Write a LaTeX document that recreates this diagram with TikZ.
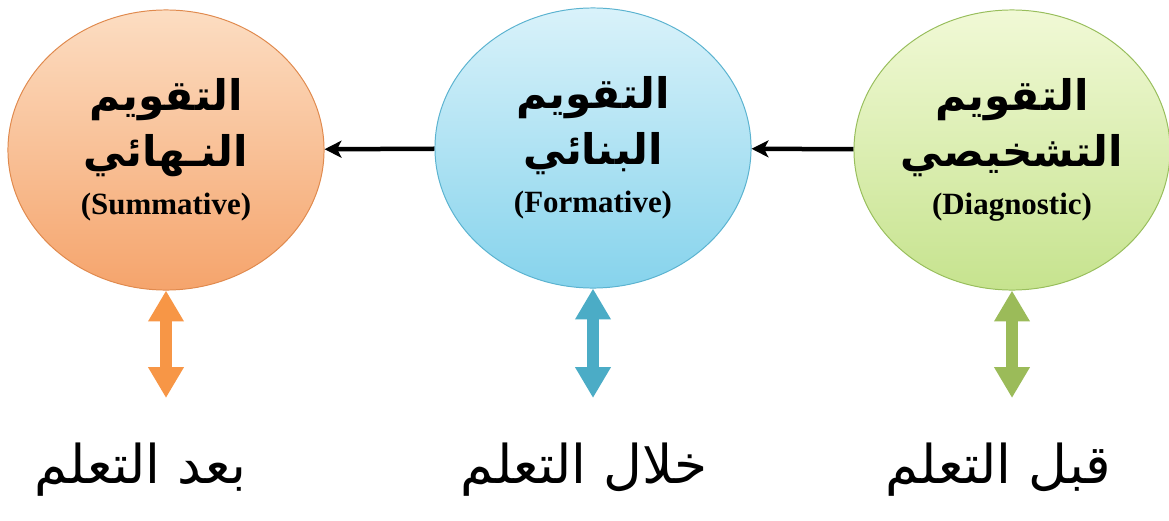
\documentclass[tikz,border=0pt]{standalone}
\usepackage{fontspec}
\usepackage{tikz}
\usetikzlibrary{arrows.meta, positioning, shapes.geometric}
\TeXXeTstate=1
\newfontfamily\arabicfont[Script=Arabic]{DejaVu Sans}
\newfontfamily\latinfont{Liberation Serif}
\definecolor{sumtop}{HTML}{FCDDC2}
\definecolor{sumbot}{HTML}{F5A46C}
\definecolor{sumline}{HTML}{E08A4E}
\definecolor{sumarrow}{HTML}{F79646}
\definecolor{formtop}{HTML}{D9F2FA}
\definecolor{formbot}{HTML}{86D3EC}
\definecolor{formline}{HTML}{5BB3D0}
\definecolor{formarrow}{HTML}{4BACC6}
\definecolor{diagtop}{HTML}{F1F9D6}
\definecolor{diagbot}{HTML}{C6E38E}
\definecolor{diagline}{HTML}{98BE5C}
\definecolor{diagarrow}{HTML}{9BBB59}

\begin{document}
\begin{tikzpicture}[x=0.025cm, y=-0.025cm,
  stage/.style={ellipse, draw=#1line, line width=0.7pt, top color=#1top, bottom color=#1bot,
                minimum width=7.9cm, minimum height=7cm, inner sep=0pt, align=center,
                font=\fontsize{30}{40}\selectfont},
  when/.style={font=\arabicfont\fontsize{38}{44}\selectfont, inner sep=2pt},
  arr/.style={-{Stealth[length=12pt, width=12pt, inset=3pt]}, line width=3.2pt, color=black},
  updown/.style={{Triangle[length=22pt, width=24pt]}-{Triangle[length=22pt, width=24pt]},
                 line width=8.5pt, color=#1, shorten >=30pt},
]
\useasboundingbox (0,0) rectangle (1169,520);

% the three stages
\node[stage=sum] (sum) at (166,150) {{\arabicfont\bfseries\beginR التقويم\endR}\\
  {\arabicfont\bfseries\beginR النـهائي\endR}\\[-6pt]
  {\latinfont\bfseries\fontsize{22}{26}\selectfont (Summative)}};
\node[stage=form] (form) at (593,148) {{\arabicfont\bfseries\beginR التقويم\endR}\\
  {\arabicfont\bfseries\beginR البنائي\endR}\\[-6pt]
  {\latinfont\bfseries\fontsize{22}{26}\selectfont (Formative)}};
\node[stage=diag] (diag) at (1012,150) {{\arabicfont\bfseries\beginR التقويم\endR}\\
  {\arabicfont\bfseries\beginR التشخيصي\endR}\\[-6pt]
  {\latinfont\bfseries\fontsize{22}{26}\selectfont (Diagnostic)}};

% when each one happens
\node[when] (after) at (140,470) {\beginR بعد التعلم\endR};
\node[when] (during) at (584,470) {\beginR خلال التعلم\endR};
\node[when] (before) at (998,470) {\beginR قبل التعلم\endR};

\draw[arr] (diag) -- (form);
\draw[arr] (form) -- (sum);
\draw[updown=sumarrow] (sum.south) -- (sum.south |- after.north);
\draw[updown=formarrow] (form.south) -- (form.south |- during.north);
\draw[updown=diagarrow] (diag.south) -- (diag.south |- before.north);
\end{tikzpicture}
\end{document}
